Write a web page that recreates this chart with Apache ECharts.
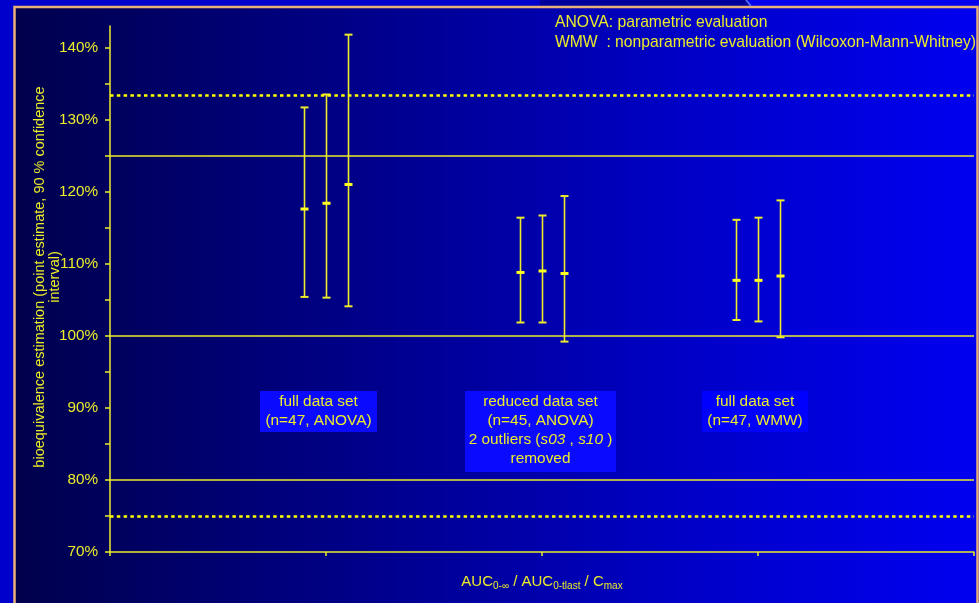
<!DOCTYPE html>
<html>
<head>
<meta charset="utf-8">
<title>Bioequivalence estimation</title>
<script src="https://cdn.jsdelivr.net/npm/echarts@6/dist/echarts.min.js"></script>
<style>
  html, body { margin: 0; padding: 0; background: #0000cc; }
  #chart { width: 979px; height: 603px; }
</style>
</head>
<body>
<div id="chart"></div>
<script>
// Evaluation groups along the x axis (one cluster of three intervals each)
const groups = ['full data set (n=47, ANOVA)', 'reduced data set (n=45, ANOVA)', 'full data set (n=47, WMW)'];
// Pharmacokinetic metrics inside each cluster, left to right
const metrics = ['AUC0-∞', 'AUC0-tlast', 'Cmax'];

// Ratio test/reference in %, per metric, one value per group
const lowerCI = {
  'AUC0-∞':    [105.4, 101.85, 102.2],
  'AUC0-tlast': [105.3, 101.85, 102.0],
  'Cmax':      [104.1,  99.2,   99.8]
};
const pointEstimate = {
  'AUC0-∞':    [117.6, 108.8, 107.7],
  'AUC0-tlast': [118.4, 109.0, 107.7],
  'Cmax':      [121.0, 108.65, 108.3]
};
const upperCI = {
  'AUC0-∞':    [131.7, 116.4, 116.1],
  'AUC0-tlast': [133.5, 116.7, 116.4],
  'Cmax':      [141.8, 119.4, 118.8]
};

// Acceptance limits
const solidLimits = [80, 100, 125];
const dottedLimits = [75, 133.33];

// Axis ticks
const yMin = 70, yMax = 143;
const yTickValues = [70, 75, 80, 85, 90, 95, 100, 105, 110, 115, 120, 125, 130, 135, 140];
const yLabelValues = [70, 80, 90, 100, 110, 120, 130, 140];

const YELLOW = '#ecec2a';
const FONT = '"Liberation Sans", Arial, sans-serif';
const metricSpread = 0.1;

const barData = [];
groups.forEach((g, gi) => {
  metrics.forEach((m, mi) => {
    barData.push([gi + 1 + (mi - 1) * metricSpread, lowerCI[m][gi], pointEstimate[m][gi], upperCI[m][gi]]);
  });
});

function renderErrorBar(params, api) {
  const x = api.value(0);
  const lo = api.coord([x, api.value(1)]);
  const est = api.coord([x, api.value(2)]);
  const hi = api.coord([x, api.value(3)]);
  const cx = Math.round(lo[0]) + 0.5;
  const half = 4;
  const st = { stroke: YELLOW, lineWidth: 1.6 };
  return {
    type: 'group',
    children: [
      { type: 'line', shape: { x1: cx, y1: hi[1], x2: cx, y2: lo[1] }, style: st },
      { type: 'line', shape: { x1: cx - half, y1: hi[1], x2: cx + half, y2: hi[1] }, style: { stroke: YELLOW, lineWidth: 2 } },
      { type: 'line', shape: { x1: cx - half, y1: lo[1], x2: cx + half, y2: lo[1] }, style: { stroke: YELLOW, lineWidth: 2 } },
      { type: 'line', shape: { x1: cx - half, y1: est[1], x2: cx + half, y2: est[1] }, style: { stroke: '#ffff20', lineWidth: 3 } }
    ]
  };
}

const chart = echarts.init(document.getElementById('chart'), null, { renderer: 'canvas' });

const boxText = { fill: YELLOW, fontSize: 15.4, fontFamily: FONT, lineHeight: 19, align: 'center', verticalAlign: 'top' };

chart.setOption({
  animation: false,
  backgroundColor: '#0000cc',
  textStyle: { fontFamily: FONT },
  grid: { left: 110, right: 5, top: 26, bottom: 51, containLabel: false },
  xAxis: {
    type: 'value',
    min: 0,
    max: 4,
    interval: 1,
    splitLine: { show: false },
    axisLine: { show: true, lineStyle: { color: YELLOW, width: 1.5 } },
    axisTick: { show: true, length: 4, lineStyle: { color: YELLOW, width: 1.5 } },
    axisLabel: { show: false },
    name: '{n|AUC}{s|0-∞}{n| / AUC}{s|0-tlast}{n| / C}{s|max}',
    nameLocation: 'middle',
    nameGap: 20,
    nameTextStyle: {
      rich: {
        n: { fontSize: 15, color: YELLOW, fontFamily: FONT },
        s: { fontSize: 10, color: YELLOW, fontFamily: FONT, padding: [9, 0, 0, 0] }
      }
    }
  },
  yAxis: {
    type: 'value',
    min: yMin,
    max: yMax,
    splitLine: { show: false },
    axisLine: { show: true, lineStyle: { color: YELLOW, width: 1.5 } },
    axisTick: { show: true, length: 5, customValues: yTickValues, lineStyle: { color: YELLOW, width: 1.5 } },
    axisLabel: {
      customValues: yLabelValues,
      formatter: '{value}%',
      color: YELLOW,
      fontSize: 15.3,
      fontFamily: FONT,
      margin: 12
    }
  },
  graphic: [
    // slide frame and gradient panel
    { type: 'rect', z: -10, silent: true, shape: { x: 540, y: 0, width: 208, height: 7 }, style: { fill: '#00009c' } },
    { type: 'rect', z: -10, silent: true, shape: { x: 748, y: 0, width: 231, height: 7 }, style: { fill: '#0000ee' } },
    { type: 'line', z: -9, silent: true, shape: { x1: 746, y1: 0, x2: 751, y2: 6 }, style: { stroke: '#5a7cff', lineWidth: 1.5 } },
    {
      type: 'rect', z: -10, silent: true,
      shape: { x: 14.5, y: 7, width: 963, height: 620 },
      style: {
        fill: new echarts.graphic.LinearGradient(0, 0, 1, 0, [
          { offset: 0, color: '#00004c' },
          { offset: 0.35, color: '#000088' },
          { offset: 0.7, color: '#0000c8' },
          { offset: 1, color: '#0000f0' }
        ]),
        stroke: '#eab07a',
        lineWidth: 2.5
      }
    },
    // explanation of the evaluation methods
    {
      type: 'text', left: 555, top: 13,
      style: {
        text: 'ANOVA: parametric evaluation\nWMW  : nonparametric evaluation (Wilcoxon-Mann-Whitney)',
        fill: YELLOW, fontSize: 15.7, fontFamily: FONT, lineHeight: 20
      }
    },
    // y-axis title
    {
      type: 'text', x: 47, y: 277, rotation: Math.PI / 2,
      style: {
        text: 'bioequivalence estimation (point estimate, 90 % confidence\ninterval)',
        fill: YELLOW, fontSize: 14.5, fontFamily: FONT, lineHeight: 15,
        align: 'center', verticalAlign: 'middle'
      }
    },
    // group captions
    { type: 'rect', z: 5, shape: { x: 260, y: 391, width: 117, height: 41 }, style: { fill: '#0a0aff' } },
    { type: 'text', z: 6, x: 318.5, y: 392, style: Object.assign({ text: 'full data set\n(n=47, ANOVA)' }, boxText) },
    { type: 'rect', z: 5, shape: { x: 465, y: 391, width: 151, height: 81 }, style: { fill: '#0a0aff' } },
    {
      type: 'text', z: 6, x: 540.5, y: 392,
      style: Object.assign({}, boxText, {
        text: 'reduced data set\n(n=45, ANOVA)\n2 outliers ({i|s03} , {i|s10} )\nremoved',
        rich: { i: { fontStyle: 'italic', fill: YELLOW, fontSize: 15.4, fontFamily: FONT, lineHeight: 19 } }
      })
    },
    { type: 'rect', z: 5, shape: { x: 702, y: 391, width: 106, height: 41 }, style: { fill: '#0000ff' } },
    { type: 'text', z: 6, x: 755, y: 392, style: Object.assign({ text: 'full data set\n(n=47, WMW)' }, boxText) }
  ],
  series: [
    {
      type: 'custom',
      name: 'confidence intervals',
      renderItem: renderErrorBar,
      encode: { x: 0, y: [1, 2, 3] },
      data: barData,
      z: 4,
      markLine: {
        silent: true,
        symbol: ['none', 'none'],
        label: { show: false },
        data: solidLimits.map(v => ({ yAxis: v, lineStyle: { color: YELLOW, width: 1.5, type: 'solid' } }))
          .concat(dottedLimits.map(v => ({ yAxis: v, lineStyle: { color: '#ffff00', width: 2.5, type: [3.5, 3.3] } })))
      }
    }
  ]
});
</script>
</body>
</html>
